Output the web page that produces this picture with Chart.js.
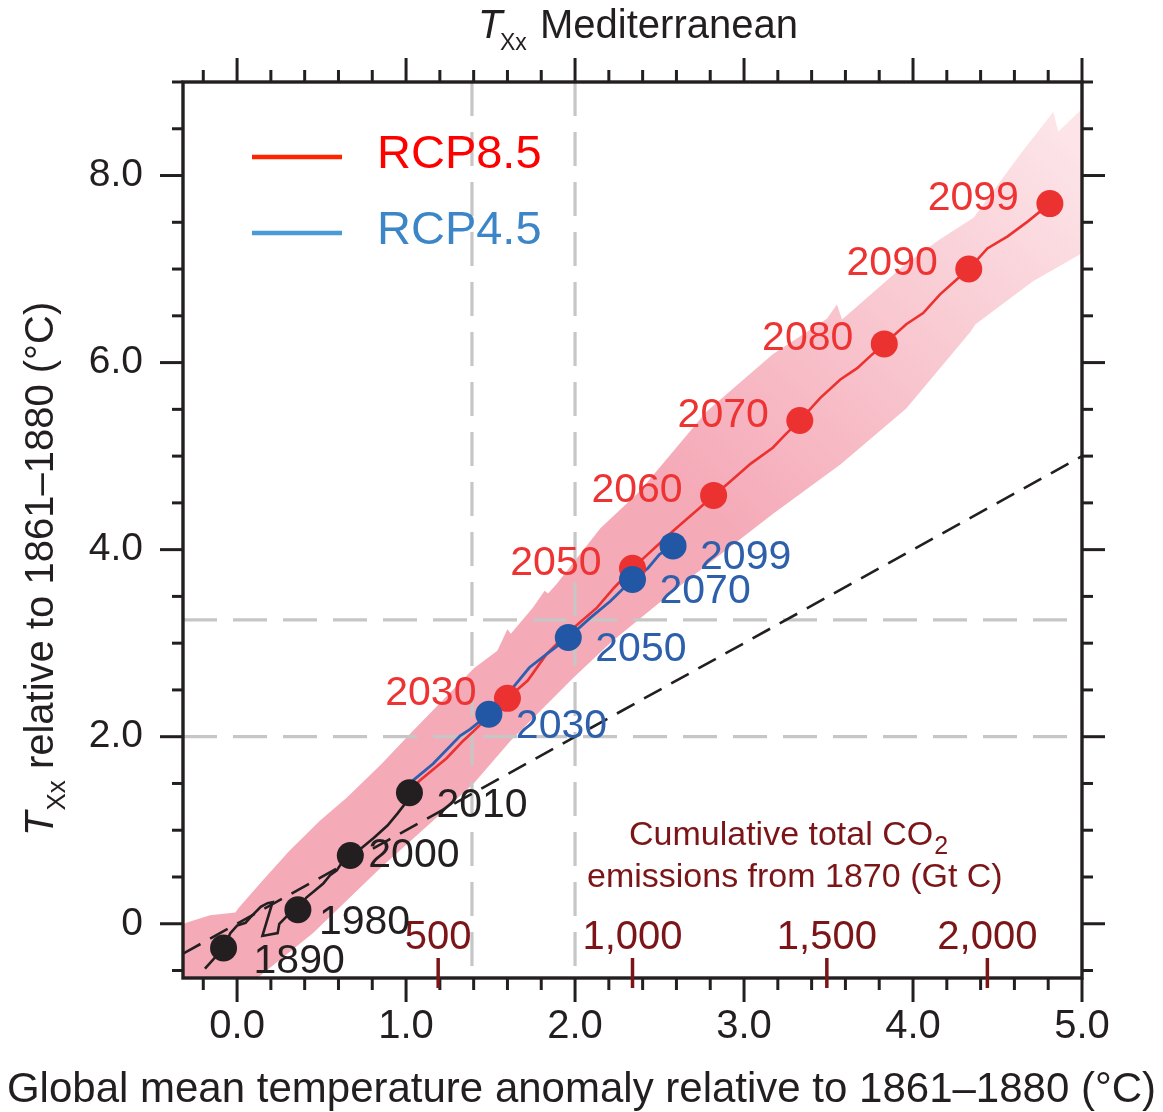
<!DOCTYPE html>
<html>
<head>
<meta charset="utf-8">
<title>TXx Mediterranean</title>
<script src="https://cdn.jsdelivr.net/npm/chart.js@4.4.1/dist/chart.umd.min.js"></script>
<style>
  html, body { margin: 0; padding: 0; background: #fff; }
  canvas { display: block; }
</style>
</head>
<body>
<canvas id="chart" width="1163" height="1112"></canvas>
<script>
const FONT = '"Liberation Sans", Arial, Helvetica, sans-serif';
const INK = '#231f20';

// axis extents (global warming on x, regional TXx warming on y)
const xMin = -0.32, xMax = 5.0;
const yMin = -0.58, yMax = 9.0;

// observed / historical simulation path
const histLineX = [-0.19, -0.08, -0.04, 0.0, 0.05, 0.08, 0.14, 0.18, 0.21, 0.15, 0.24, 0.25, 0.31, 0.36, 0.41, 0.45, 0.51, 0.55, 0.59, 0.63, 0.67, 0.73, 0.81, 0.89, 0.95, 1.01, 1.02];
const histLineY = [-0.48, -0.26, -0.10, -0.02, 0.01, 0.07, 0.18, 0.22, 0.23, -0.13, -0.10, 0.00, 0.11, 0.15, 0.28, 0.34, 0.43, 0.52, 0.57, 0.68, 0.73, 0.80, 0.92, 1.05, 1.18, 1.32, 1.40];
const histYears = ['1890', '1980', '2000', '2010'];
const histDotX = [-0.08, 0.36, 0.67, 1.02];
const histDotY = [-0.26, 0.15, 0.73, 1.40];

// RCP8.5
const rcp85LineX = [1.02, 1.08, 1.24, 1.34, 1.40, 1.60, 1.72, 1.83, 1.97, 2.13, 2.23, 2.34, 2.58, 2.74, 2.82, 2.90, 3.04, 3.17, 3.25, 3.33, 3.45, 3.57, 3.67, 3.76, 3.83, 3.96, 4.06, 4.16, 4.26, 4.33, 4.44, 4.56, 4.68, 4.81];
const rcp85LineY = [1.40, 1.53, 1.77, 1.96, 2.06, 2.41, 2.60, 2.88, 3.13, 3.38, 3.59, 3.80, 4.20, 4.45, 4.58, 4.70, 4.92, 5.09, 5.24, 5.38, 5.62, 5.82, 5.94, 6.09, 6.20, 6.41, 6.53, 6.73, 6.89, 7.00, 7.22, 7.35, 7.51, 7.70];
const rcp85Years = ['2030', '2050', '2060', '2070', '2080', '2090', '2099'];
const rcp85DotX = [1.60, 2.34, 2.82, 3.33, 3.83, 4.33, 4.81];
const rcp85DotY = [2.41, 3.80, 4.58, 5.38, 6.20, 7.00, 7.70];

// RCP4.5
const rcp45LineX = [1.02, 1.04, 1.16, 1.32, 1.38, 1.49, 1.63, 1.73, 1.83, 1.96, 2.09, 2.21, 2.34, 2.43, 2.50, 2.58];
const rcp45LineY = [1.40, 1.53, 1.71, 2.01, 2.08, 2.24, 2.52, 2.74, 2.88, 3.06, 3.27, 3.45, 3.68, 3.80, 3.95, 4.04];
const rcp45Years = ['2030', '2050', '2070', '2099'];
const rcp45DotX = [1.49, 1.96, 2.34, 2.58];
const rcp45DotY = [2.24, 3.06, 3.68, 4.04];

// model spread (upper and lower edge of the shaded band)
const bandUpperX = [-0.32, -0.16, -0.01, 0.01, 0.15, 0.31, 0.49, 0.65, 0.85, 1.04, 1.40, 1.54, 1.60, 1.62, 1.75, 1.82, 1.84, 1.89, 2.15, 2.38, 2.78, 3.17, 3.49, 3.55, 3.58, 3.96, 4.16, 4.36, 4.64, 4.83, 4.86, 5.00];
const bandUpperY = [0.00, 0.09, 0.12, 0.17, 0.46, 0.78, 1.10, 1.35, 1.70, 2.06, 2.73, 2.92, 3.15, 3.10, 3.38, 3.56, 3.53, 3.63, 4.23, 4.62, 5.48, 6.09, 6.47, 6.62, 6.46, 7.06, 7.32, 7.55, 8.24, 8.68, 8.47, 8.71];
const bandLowerX = [-0.32, 0.12, 0.45, 0.85, 1.14, 1.40, 1.62, 1.99, 2.22, 2.62, 3.17, 3.57, 3.96, 4.34, 4.37, 4.71, 5.00];
const bandLowerY = [-1.14, -0.58, -0.10, 0.60, 1.07, 1.50, 1.96, 2.63, 3.02, 3.61, 4.38, 4.91, 5.51, 6.33, 6.41, 6.87, 7.17];

// reference lines: 1:1 line and the grey guides
const oneToOne = [-0.32, 5.0];
const guideX = [1.39, 2.0];
const guideY = [2.0, 3.25];

// cumulative CO2 emissions marked along the x axis
const co2Labels = ['500', '1,000', '1,500', '2,000'];
const co2X = [1.19, 2.34, 3.49, 4.44];

const pts = (xs, ys) => xs.map((v, i) => ({ x: v, y: ys[i] }));

function traceSet(data, color, width, order, dash) {
  return {
    data: data, showLine: true, borderColor: color, borderWidth: width,
    borderDash: dash || [], pointRadius: 0, fill: false, tension: 0, order: order
  };
}

function dotSet(data, color, order) {
  return {
    data: data, showLine: false, pointRadius: 13.5, pointBorderWidth: 0,
    pointBackgroundColor: color, backgroundColor: color, order: order
  };
}

// pink band fading out towards the upper right
function bandFill(context) {
  const chart = context.chart;
  if (!chart.chartArea) return 'rgba(245,170,184,1)';
  const sx = chart.scales.x, sy = chart.scales.y;
  const g = chart.ctx.createLinearGradient(
    sx.getPixelForValue(2.8), sy.getPixelForValue(4.4),
    sx.getPixelForValue(4.9), sy.getPixelForValue(8.4));
  g.addColorStop(0, 'rgb(245,170,184)');
  g.addColorStop(0.45, 'rgb(248,196,205)');
  g.addColorStop(1, 'rgb(252,228,232)');
  return g;
}

const datasets = [
  dotSet(pts(histDotX, histDotY), INK, 0),
  dotSet(pts(rcp45DotX, rcp45DotY), '#2257a5', 1),
  dotSet(pts(rcp85DotX, rcp85DotY), '#ec3230', 2),
  traceSet(pts(histLineX, histLineY), INK, 2.6, 3),
  traceSet(pts(rcp45LineX, rcp45LineY), '#2d5fb0', 2.8, 4),
  traceSet(pts(rcp85LineX, rcp85LineY), '#ec3230', 2.6, 5),
  traceSet(pts(oneToOne, oneToOne), INK, 2.6, 6, [20, 11]),
  traceSet([{ x: guideX[0], y: yMax }, { x: guideX[0], y: yMin }], '#c6c6c6', 3.2, 7, [34, 16]),
  traceSet([{ x: guideX[1], y: yMax }, { x: guideX[1], y: yMin }], '#c6c6c6', 3.2, 7, [34, 16]),
  traceSet([{ x: xMin, y: guideY[0] }, { x: xMax, y: guideY[0] }], '#c6c6c6', 3.2, 7, [34, 16]),
  traceSet([{ x: xMin, y: guideY[1] }, { x: xMax, y: guideY[1] }], '#c6c6c6', 3.2, 7, [34, 16]),
  { data: pts(bandUpperX, bandUpperY), showLine: true, borderWidth: 0, pointRadius: 0,
    fill: '+1', backgroundColor: bandFill, order: 9 },
  { data: pts(bandLowerX, bandLowerY), showLine: true, borderWidth: 0, pointRadius: 0,
    fill: false, order: 9 }
];

function seg(ctx, x1, y1, x2, y2) {
  ctx.beginPath();
  ctx.moveTo(x1, y1);
  ctx.lineTo(x2, y2);
  ctx.stroke();
}

const decor = {
  id: 'decor',
  afterDraw(chart) {
    const { ctx, chartArea: a } = chart;
    const sx = chart.scales.x, sy = chart.scales.y;
    ctx.save();

    // frame with outward tick marks on all four sides
    ctx.strokeStyle = INK;
    ctx.lineWidth = 3.4;
    ctx.strokeRect(a.left, a.top, a.right - a.left, a.bottom - a.top);
    ctx.lineWidth = 3;
    for (let i = -1; i <= 25; i++) {
      const px = sx.getPixelForValue(i * 0.2);
      const len = i % 5 === 0 ? 24 : 12;
      seg(ctx, px, a.bottom, px, a.bottom + len);
      seg(ctx, px, a.top, px, a.top - len);
    }
    for (let i = -1; i <= 18; i++) {
      const py = sy.getPixelForValue(i * 0.5);
      const len = i % 4 === 0 ? 23 : 11;
      seg(ctx, a.left, py, a.left - len, py);
      seg(ctx, a.right, py, a.right + len, py);
    }

    // CO2 emission markers
    ctx.strokeStyle = '#7b1518';
    ctx.fillStyle = '#7b1518';
    ctx.lineWidth = 3.5;
    ctx.font = `40px ${FONT}`;
    ctx.textAlign = 'center';
    ctx.textBaseline = 'alphabetic';
    co2X.forEach((v, i) => {
      const px = sx.getPixelForValue(v);
      seg(ctx, px, a.bottom - 20, px, a.bottom + 10);
      ctx.fillText(co2Labels[i], px, a.bottom - 29);
    });
    ctx.textAlign = 'left';
    ctx.font = `34px ${FONT}`;
    ctx.fillText('Cumulative total CO', 629, 845);
    const coW = ctx.measureText('Cumulative total CO').width;
    ctx.font = `25px ${FONT}`;
    ctx.fillText('2', 629 + coW + 1, 854);
    ctx.font = `34px ${FONT}`;
    ctx.fillText('emissions from 1870 (Gt C)', 587, 887);

    // year labels next to the dots
    ctx.font = `41px ${FONT}`;
    ctx.textBaseline = 'middle';
    ctx.fillStyle = '#ee3333';
    ctx.textAlign = 'right';
    rcp85Years.forEach((t, i) => {
      ctx.fillText(t, sx.getPixelForValue(rcp85DotX[i]) - 31, sy.getPixelForValue(rcp85DotY[i]) - 5);
    });
    ctx.fillStyle = '#2d5fab';
    ctx.textAlign = 'left';
    rcp45Years.forEach((t, i) => {
      ctx.fillText(t, sx.getPixelForValue(rcp45DotX[i]) + 27, sy.getPixelForValue(rcp45DotY[i]) + 12);
    });
    const histShift = [[30, 14], [21, 13], [18, 0], [27, 13]];
    ctx.fillStyle = INK;
    histYears.forEach((t, i) => {
      ctx.fillText(t, sx.getPixelForValue(histDotX[i]) + histShift[i][0],
        sy.getPixelForValue(histDotY[i]) + histShift[i][1]);
    });

    // legend
    ctx.lineWidth = 4.5;
    ctx.strokeStyle = '#ff2400';
    seg(ctx, a.left + 69, 157, a.left + 159, 157);
    ctx.strokeStyle = '#4a9ad8';
    seg(ctx, a.left + 69, 233, a.left + 159, 233);
    ctx.font = `47px ${FONT}`;
    ctx.fillStyle = '#ff0000';
    ctx.fillText('RCP8.5', a.left + 194, 155);
    ctx.fillStyle = '#3c86c8';
    ctx.fillText('RCP4.5', a.left + 194, 231);

    // titles
    ctx.fillStyle = INK;
    ctx.textBaseline = 'alphabetic';
    ctx.font = `italic 40px ${FONT}`;
    ctx.fillText('T', 478, 38);
    ctx.font = `23px ${FONT}`;
    ctx.fillText('Xx', 500, 50);
    ctx.font = `40px ${FONT}`;
    ctx.fillText('Mediterranean', 540, 38);

    ctx.textAlign = 'center';
    ctx.font = `42px ${FONT}`;
    ctx.fillText('Global mean temperature anomaly relative to 1861\u20131880 (\u00b0C)', chart.width / 2, 1102);

    ctx.translate(53, 836);
    ctx.rotate(-Math.PI / 2);
    ctx.textAlign = 'left';
    ctx.font = `italic 40px ${FONT}`;
    ctx.fillText('T', 0, 0);
    let w = ctx.measureText('T').width + 1;
    ctx.font = `26px ${FONT}`;
    ctx.fillText('Xx', w, 12);
    w += ctx.measureText('Xx').width;
    ctx.font = `40px ${FONT}`;
    ctx.fillText(' relative to 1861\u20131880 (\u00b0C)', w, 0);

    ctx.restore();
  }
};

const config = {
  type: 'line',
  data: { datasets: datasets },
  options: {
    responsive: false,
    animation: false,
    devicePixelRatio: 1,
    events: [],
    layout: { padding: { top: 82, right: 81, left: 0, bottom: 0 } },
    scales: {
      x: {
        type: 'linear',
        min: xMin,
        max: xMax,
        afterFit: (scale) => { scale.height = 134; },
        grid: { display: false, drawTicks: false },
        border: { display: false },
        ticks: {
          stepSize: 1,
          includeBounds: false,
          autoSkip: false,
          maxRotation: 0,
          padding: 25,
          color: INK,
          font: { family: FONT, size: 40 },
          callback: (v) => v.toFixed(1)
        }
      },
      y: {
        type: 'linear',
        min: yMin,
        max: yMax,
        afterFit: (scale) => { scale.width = 183; },
        grid: { display: false, drawTicks: false },
        border: { display: false },
        ticks: {
          stepSize: 2,
          includeBounds: false,
          autoSkip: false,
          padding: 40,
          color: INK,
          font: { family: FONT, size: 39 },
          callback: (v) => (v === 0 ? '0' : v.toFixed(1))
        }
      }
    },
    plugins: {
      legend: { display: false },
      title: { display: false },
      tooltip: { enabled: false }
    }
  },
  plugins: [decor]
};

const chart = new Chart(document.getElementById('chart').getContext('2d'), config);
</script>
</body>
</html>
